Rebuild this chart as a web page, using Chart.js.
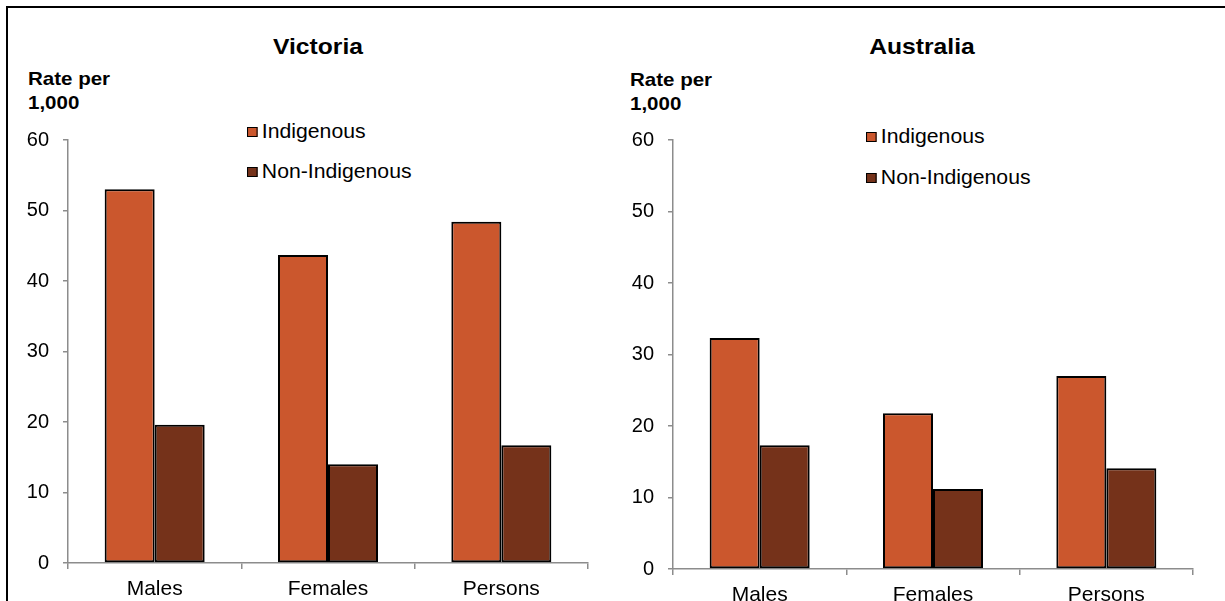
<!DOCTYPE html>
<html>
<head>
<meta charset="utf-8">
<script src="https://cdn.jsdelivr.net/npm/chart.js@4/dist/chart.umd.min.js"></script>
<style>
  html, body { margin: 0; padding: 0; background: #fff; overflow: hidden; }
  body { width: 1225px; height: 601px; position: relative; font-family: "Liberation Sans", Arial, sans-serif; color: #000; }
  .frame { position: absolute; left: 6px; top: 6px; width: 1400px; height: 800px;
           border-top: 2px solid #000; border-left: 2px solid #000; }
  canvas { position: absolute; top: 0; }
  .title { position: absolute; font-weight: bold; font-size: 22px; line-height: 26px; text-align: center; width: 240px;
           transform: scaleX(1.12); }
  .ylab { position: absolute; font-weight: bold; font-size: 19px; line-height: 24px;
          transform: scaleX(1.08); transform-origin: left center; }
  .leg { position: absolute; font-size: 20px; line-height: 24px; white-space: nowrap;
         transform: scaleX(1.06); transform-origin: left center; }
  .leg span.box { display: inline-block; width: 8px; height: 8px; border: 1.5px solid #000; margin-right: 4px; vertical-align: 1px; }
</style>
</head>
<body>
<div class="frame"></div>

<div class="title" style="left:198px; top:34px;">Victoria</div>
<div class="ylab" style="left:28px; top:67px;">Rate per<br>1,000</div>
<div class="leg" style="left:247px; top:119px;"><span class="box" style="background:#CB572D"></span>Indigenous</div>
<div class="leg" style="left:247px; top:159px;"><span class="box" style="background:#75321A"></span>Non-Indigenous</div>
<canvas id="vic" width="600" height="601" style="left:0px;"></canvas>

<div class="title" style="left:802px; top:34px;">Australia</div>
<div class="ylab" style="left:630px; top:68px;">Rate per<br>1,000</div>
<div class="leg" style="left:866px; top:124px;"><span class="box" style="background:#CB572D"></span>Indigenous</div>
<div class="leg" style="left:866px; top:165px;"><span class="box" style="background:#75321A"></span>Non-Indigenous</div>
<canvas id="aus" width="625" height="601" style="left:600px;"></canvas>

<script>
// rate per 1,000
const categories = ['Males', 'Females', 'Persons'];
const vicIndigenous = [53.0, 43.7, 48.4];
const vicNonIndigenous = [19.6, 14.0, 16.7];
const ausIndigenous = [32.3, 21.8, 27.0];
const ausNonIndigenous = [17.3, 11.2, 14.1];
const seriesNames = ['Indigenous', 'Non-Indigenous'];
const yMax = 60;
const yStep = 10;

const INDIG_COLOR = '#CB572D';
const NONINDIG_COLOR = '#75321A';
const AXIS_COLOR = '#8c8c8c';

function makeChart( id, indig, nonIndig, yWidth, xHeight, padRight ) {
    const ctx = document.getElementById( id ).getContext( '2d' );
    return new Chart( ctx, {
        type: 'bar',
        data: {
            labels: categories,
            datasets: [{
                label: seriesNames[0],
                data: indig,
                backgroundColor: INDIG_COLOR,
                borderColor: '#000',
                borderWidth: 2,
                borderSkipped: false
            }, {
                label: seriesNames[1],
                data: nonIndig,
                backgroundColor: NONINDIG_COLOR,
                borderColor: '#000',
                borderWidth: 2,
                borderSkipped: false
            }]
        },
        options: {
            responsive: false,
            animation: false,
            devicePixelRatio: 1,
            layout: { padding: { top: 140, right: padRight, left: 0, bottom: 0 } },
            datasets: {
                bar: { categoryPercentage: 0.577, barPercentage: 1.0 }
            },
            plugins: {
                legend: { display: false },
                title: { display: false },
                tooltip: { enabled: false }
            },
            scales: {
                x: {
                    grid: {
                        drawOnChartArea: false,
                        drawTicks: true,
                        tickLength: 6,
                        color: AXIS_COLOR,
                        lineWidth: 1.5,
                        offset: true
                    },
                    border: { display: true, color: AXIS_COLOR, width: 1.5 },
                    ticks: {
                        color: '#000',
                        padding: 8,
                        font: { family: '"Liberation Sans", Arial, sans-serif', size: 21 }
                    },
                    afterFit: function( scale ) { scale.height = xHeight; }
                },
                y: {
                    min: 0,
                    max: yMax,
                    grid: {
                        drawOnChartArea: false,
                        drawTicks: true,
                        tickLength: 5,
                        color: AXIS_COLOR,
                        lineWidth: 1.5
                    },
                    border: { display: true, color: AXIS_COLOR, width: 1.5 },
                    ticks: {
                        stepSize: yStep,
                        color: '#000',
                        padding: 14,
                        font: { family: '"Liberation Sans", Arial, sans-serif', size: 20 }
                    },
                    afterFit: function( scale ) { scale.width = yWidth; }
                }
            }
        }
    });
}

makeChart( 'vic', vicIndigenous, vicNonIndigenous, 68, 38, 12 );
makeChart( 'aus', ausIndigenous, ausNonIndigenous, 73, 32, 32 );
</script>
</body>
</html>
